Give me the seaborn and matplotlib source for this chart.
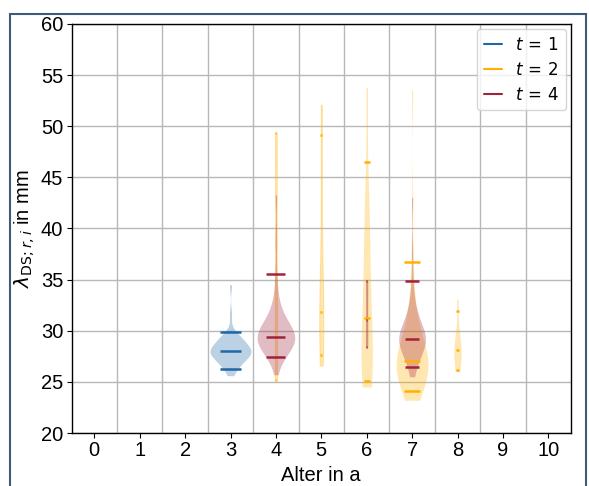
import numpy as np
import matplotlib
matplotlib.use("Agg")
import matplotlib.pyplot as plt
from matplotlib.lines import Line2D
from matplotlib.patches import Rectangle
import seaborn as sns

# lambda_DS;r,i in mm, grouped by age (a) and time step t
t1_age3 = [25.6, 26.2, 26.3, 26.5, 26.7, 26.8, 27.0, 27.1, 27.2, 27.3,
           27.4, 27.5, 27.6, 27.7, 27.75, 27.8, 27.85, 27.9, 27.95, 28.0,
           28.0, 28.05, 28.1, 28.2, 28.3, 28.4, 28.5, 28.6, 28.7, 28.8,
           28.9, 29.0, 29.1, 29.2, 29.35, 29.5, 29.65, 29.8, 31.6, 34.5]

t2_age4 = [25.1, 25.3, 33.1, 49.2, 49.4]
t2_age5 = [26.6, 29.1, 29.8, 30.6, 31.8, 32.9, 36.0, 44.6, 52.1]
t2_age6 = [24.5, 25.4, 26.0, 26.5, 27.0, 27.6, 28.3, 31.2, 32.5, 34.0,
           36.5, 39.0, 41.0, 43.4, 53.8]
t2_age7 = [23.2, 24.0, 24.1, 24.4, 24.7, 24.9, 25.1, 25.3, 25.5, 25.7,
           25.85, 26.0, 26.15, 26.3, 26.4, 26.5, 26.6, 26.75, 26.9, 27.0,
           27.0, 27.15, 27.3, 27.5, 27.7, 27.9, 28.1, 28.4, 28.7, 29.0,
           29.4, 29.8, 30.3, 30.9, 31.7, 32.8, 34.5, 36.4, 42.0, 53.5]
t2_age8 = [26.0, 26.6, 27.3, 27.9, 28.3, 28.9, 29.7, 33.1]

t4_age4 = [25.7, 27.35, 27.45, 27.7, 27.9, 28.1, 28.3, 28.45, 28.6, 28.7,
           28.8, 28.9, 29.0, 29.1, 29.15, 29.2, 29.25, 29.3, 29.35, 29.4,
           29.4, 29.5, 29.6, 29.7, 29.8, 29.95, 30.1, 30.25, 30.4, 30.6,
           30.8, 31.0, 31.3, 31.6, 32.0, 32.6, 33.5, 35.4, 39.0, 43.3]
t4_age6 = [28.4, 28.5, 31.1, 34.8, 34.9]
t4_age7 = [25.5, 26.4, 26.5, 26.9, 27.3, 27.6, 27.85, 28.05, 28.25, 28.4,
           28.55, 28.65, 28.75, 28.85, 28.95, 29.0, 29.05, 29.1, 29.15, 29.2,
           29.2, 29.3, 29.45, 29.6, 29.75, 29.9, 30.05, 30.2, 30.4, 30.6,
           30.8, 31.0, 31.3, 31.6, 32.0, 32.6, 33.4, 34.7, 37.7, 43.0]

ages = list(range(11))
time_steps = [1, 2, 4]
series = {
    1: {3: t1_age3},
    2: {4: t2_age4, 5: t2_age5, 6: t2_age6, 7: t2_age7, 8: t2_age8},
    4: {4: t4_age4, 6: t4_age6, 7: t4_age7},
}
quantile_levels = [0.05, 0.5, 0.95]

# styling
colors = {1: "#1f67a8", 2: "#ffb000", 4: "#a2223c"}
violin_width = {
    (1, 3): 0.90,
    (2, 4): 0.05, (2, 5): 0.09, (2, 6): 0.25, (2, 7): 0.70, (2, 8): 0.16,
    (4, 4): 0.83, (4, 6): 0.03, (4, 7): 0.59,
}

sns.set_style("ticks")
plt.rcParams["font.family"] = ["Liberation Sans", "DejaVu Sans"]
plt.rcParams.update({"text.color": "black", "axes.labelcolor": "black",
                     "xtick.color": "black", "ytick.color": "black"})

fig = plt.figure(figsize=(5.89, 4.86), dpi=100)
ax = fig.add_axes([71.6 / 589, 1 - 433 / 486, (571 - 71.6) / 589, (433 - 24) / 486])

for t in time_steps:
    for age, vals in series[t].items():
        w = violin_width[(t, age)]
        vals = np.asarray(vals, dtype=float)
        edge_lw = 0.8 if w < 0.1 else 0
        sns.violinplot(x=np.full(len(vals), float(age)), y=vals, native_scale=True,
                       width=w, cut=0, inner=None, density_norm="width",
                       bw_adjust=0.85, color=colors[t], saturation=1,
                       linecolor=colors[t], linewidth=edge_lw, alpha=0.3, ax=ax)
        q = np.quantile(vals, quantile_levels)
        ax.hlines(q, age - w / 4, age + w / 4, colors=colors[t], lw=1.8, zorder=3)

ax.set_xlim(-0.5, 10.5)
ax.set_ylim(20, 60)
ax.set_xticks(ages)
ax.set_xticklabels([str(a) for a in ages])
ax.set_xticks(np.arange(0.5, 10, 1), minor=True)
ax.set_yticks(np.arange(20, 61, 5))
ax.tick_params(which="minor", length=0)
ax.tick_params(which="major", labelsize=14.5, color="black", pad=2.5)
ax.grid(which="minor", axis="x", color="#b8b8b8", lw=1.0)
ax.grid(which="major", axis="y", color="#b8b8b8", lw=1.0)
ax.set_axisbelow(True)
for s in ax.spines.values():
    s.set_color("black")
    s.set_linewidth(1.0)

ax.set_xlabel("Alter in a", fontsize=14.5, labelpad=4)
ax.set_ylabel(r"$\lambda_{\mathrm{DS};r,i}$ in mm", fontsize=14.5, labelpad=3)

handles = [Line2D([], [], color=colors[t], lw=1.5) for t in time_steps]
labels = [rf"$t\,=\,{t}$" for t in time_steps]
ax.legend(handles, labels, loc="upper right", fontsize=12, handlelength=1.1,
          borderaxespad=0.3, frameon=True, framealpha=0.8, edgecolor="0.8",
          fancybox=True)

fig.add_artist(Rectangle((10 / 589, -0.05), (586 - 10) / 589, 1 - 14 / 486 + 0.05,
                         transform=fig.transFigure, fill=False,
                         edgecolor="#3e5c7a", lw=1.5, clip_on=False))

fig.savefig("out.png", dpi=100)
